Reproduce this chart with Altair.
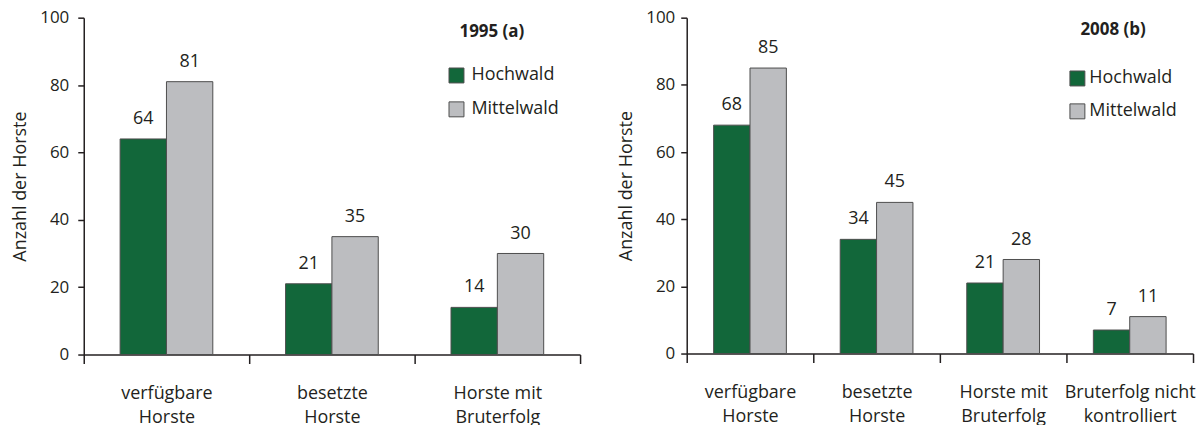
import altair as alt
import pandas as pd

# ---- data ----
cats_a = ["verfügbare\nHorste", "besetzte\nHorste", "Horste mit\nBruterfolg"]
hoch_a = [64, 21, 14]
mittel_a = [81, 35, 30]

cats_b = ["verfügbare\nHorste", "besetzte\nHorste", "Horste mit\nBruterfolg",
          "Bruterfolg nicht\nkontrolliert"]
hoch_b = [68, 34, 21, 7]
mittel_b = [85, 45, 28, 11]

series = ["Hochwald", "Mittelwald"]
colors = ["#12673a", "#bcbdc0"]
y_ticks = [0, 20, 40, 60, 80, 100]
panel_titles = ["1995 (a)", "2008 (b)"]

FONT = "Open Sans"
INK = "#231f20"
EDGE = "#4d4d4d"


def panel(cats, hoch, mittel, title, width, height, title_x, title_y,
          leg_x, leg_y, leg_row_pad, leg_lab_off, lab_pad, ttl_pad, pad_outer):
    df = pd.DataFrame({
        "cat": cats * 2,
        "forest": [series[0]] * len(cats) + [series[1]] * len(cats),
        "value": hoch + mittel,
    })
    legend = alt.Legend(title=None, orient="none",
                        legendX=leg_x, legendY=leg_y,
                        symbolType="square", symbolSize=225,
                        symbolStrokeColor=EDGE, symbolStrokeWidth=1,
                        symbolOpacity=1, labelFont=FONT, labelFontSize=18,
                        labelColor=INK, labelOffset=leg_lab_off,
                        rowPadding=leg_row_pad)
    base = alt.Chart(df).encode(
        x=alt.X("cat:N", sort=cats,
                scale=alt.Scale(paddingInner=0, paddingOuter=0),
                axis=alt.Axis(title=None, labelAngle=0, tickBand="extent",
                              tickSize=9, tickWidth=1.5, tickColor=INK,
                              domainColor=INK, domainWidth=1.5,
                              labelExpr="split(datum.label, '\\n')",
                              labelFont=FONT, labelFontSize=18,
                              labelLineHeight=24, labelPadding=21,
                              labelColor=INK)),
        xOffset=alt.XOffset("forest:N", sort=series,
                            scale=alt.Scale(paddingInner=0,
                                            paddingOuter=pad_outer)),
        y=alt.Y("value:Q",
                scale=alt.Scale(domain=[0, 100], nice=False),
                axis=alt.Axis(values=y_ticks, grid=False,
                              title="Anzahl der Horste",
                              titleFont=FONT, titleFontSize=18,
                              titleFontWeight="normal", titleColor=INK,
                              titlePadding=ttl_pad,
                              tickSize=6, tickWidth=1.5, tickColor=INK,
                              domainColor=INK, domainWidth=1.5,
                              labelFont=FONT, labelFontSize=17,
                              labelColor=INK, labelPadding=lab_pad)),
    )
    bars = base.mark_bar(stroke=EDGE, strokeWidth=1).encode(
        color=alt.Color("forest:N", sort=series,
                        scale=alt.Scale(domain=series, range=colors),
                        legend=legend),
    )
    labels = base.mark_text(dy=-20, font=FONT, fontSize=18, color=INK).encode(
        text="value:Q"
    )
    heading = alt.Chart(pd.DataFrame({"t": [title]})).mark_text(
        font=FONT, fontSize=17, fontWeight="bold", color=INK,
        align="left", baseline="middle",
    ).encode(text="t:N", x=alt.value(title_x), y=alt.value(title_y))
    return alt.layer(bars, labels, heading).properties(width=width,
                                                       height=height)


left = panel(cats_a, hoch_a, mittel_a, panel_titles[0], 498, 338, 377, 14,
             365, 49, 14, 6, 9, 10, 0.785)
right = panel(cats_b, hoch_b, mittel_b, panel_titles[1], 508, 337, 395, 12,
              383, 52, 13, 3, 6, 10, 0.74)

chart = (
    alt.hconcat(left, right, spacing=36)
    .resolve_scale(color="independent", x="independent", y="independent",
                   xOffset="independent")
    .resolve_legend(color="independent")
    .configure_view(strokeWidth=0)
    .properties(padding={"left": 3, "top": 0, "right": 0, "bottom": 0})
)

chart.save("out.html", embed_options={"renderer": "svg", "actions": False})
